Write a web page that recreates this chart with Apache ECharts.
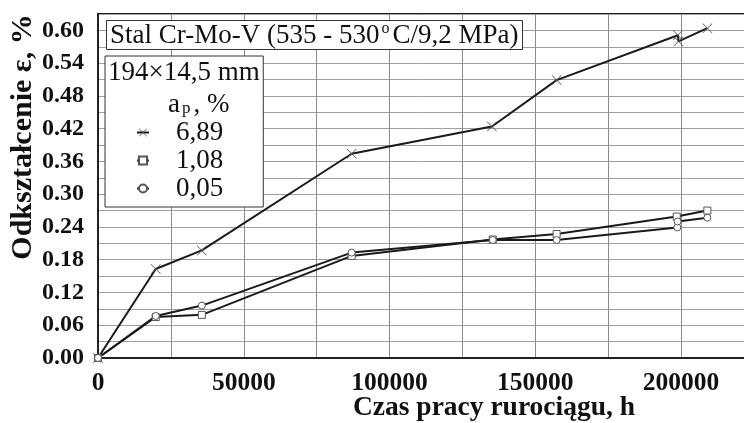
<!DOCTYPE html>
<html lang="pl">
<head>
  <meta charset="UTF-8">
  <title>Odkształcenie</title>
  <script src="https://cdn.jsdelivr.net/npm/echarts@6/dist/echarts.min.js"></script>
  <style>
    html, body { margin: 0; padding: 0; background: #fff; }
    #main { width: 744px; height: 423px; }
  </style>
</head>
<body>
  <div id="main"></div>
  <script>
    // dane: [czas h, odkształcenie %]
    var seriesNames = ['6,89', '1,08', '0,05'];
    var s689 = [[0, 0], [19800, 0.163], [35600, 0.197], [87000, 0.374], [135100, 0.424],
      [157300, 0.509], [198900, 0.591], [199100, 0.580], [209000, 0.604]];
    var s108 = [[0, 0], [19800, 0.075], [35600, 0.079], [87000, 0.187], [135400, 0.217],
      [157300, 0.227], [198500, 0.259], [209000, 0.270]];
    var s005 = [[0, 0], [19800, 0.077], [35600, 0.096], [87000, 0.193], [135400, 0.216],
      [157300, 0.216], [198700, 0.239], [198800, 0.250], [209000, 0.257]];
    var xTicks = [0, 50000, 100000, 150000, 200000];
    var yTicks = [0, 0.06, 0.12, 0.18, 0.24, 0.30, 0.36, 0.42, 0.48, 0.54, 0.60];

    var serif = 'Liberation Serif';
    var crossPath = 'path://M0,0.5L0.5,0L5,4.5L9.5,0L10,0.5L5.5,5L10,9.5L9.5,10L5,5.5L0.5,10L0,9.5L4.5,5Z';

    var myChart = echarts.init(document.getElementById('main'));

    function lineSeries(name, data, symbol, size) {
      var isCross = symbol === crossPath;
      return {
        name: name,
        type: 'line',
        data: data,
        symbol: symbol,
        symbolSize: size,
        showAllSymbol: true,
        lineStyle: { color: '#1a1a1a', width: 2 },
        itemStyle: isCross
          ? { color: '#555', borderWidth: 0 }
          : { color: '#fff', borderColor: '#555', borderWidth: 1 },
        emphasis: { disabled: true },
        z: 3
      };
    }

    var option = {
      animation: false,
      backgroundColor: '#fff',
      grid: {
        left: 98, top: 14, right: -10, bottom: 65,
        outerBoundsMode: 'none',
        show: true, borderColor: '#222', borderWidth: 2
      },
      title: {
        text: 'Stal Cr-Mo-V (535 - 530{sup|o}C/9,2 MPa)',
        left: 106, top: 21,
        padding: [1, 4, 1, 4],
        backgroundColor: '#fff',
        borderColor: '#333', borderWidth: 1,
        textStyle: {
          fontFamily: serif, fontSize: 27, fontWeight: 'normal', color: '#111', lineHeight: 27,
          rich: { sup: { fontFamily: serif, fontSize: 16, color: '#111', padding: [0, 3, 13, 2] } }
        }
      },
      legend: {
        orient: 'vertical',
        left: 105, top: 56,
        padding: [63, 40, 5, 31],
        itemGap: 1,
        itemWidth: 12, itemHeight: 10,
        backgroundColor: '#fff',
        borderColor: '#333', borderWidth: 1,
        data: seriesNames,
        textStyle: { fontFamily: serif, fontSize: 27, color: '#111', padding: [0, 0, 0, 22] }
      },
      graphic: [
        {
          type: 'text', left: 108, top: 59, z: 100,
          style: { text: '194×14,5 mm', font: '27px "Liberation Serif"', fill: '#111' }
        },
        {
          type: 'text', left: 168, top: 91, z: 100,
          style: {
            text: 'a{sub|p}, %', font: '27px "Liberation Serif"', fill: '#111',
            rich: { sub: { fontFamily: serif, fontSize: 17, fill: '#111', padding: [9, 3, 0, 2] } }
          }
        }
      ],
      xAxis: {
        type: 'value',
        min: 0, max: 225000, interval: 25000,
        name: 'Czas pracy rurociągu, h',
        nameLocation: 'middle',
        nameGap: 36,
        nameMoveOverlap: false,
        nameTextStyle: { fontFamily: serif, fontSize: 27.5, fontWeight: 'bold', color: '#111', padding: [0, 0, 0, 136] },
        axisLine: { show: true, lineStyle: { color: '#222', width: 2 } },
        axisTick: { show: false },
        axisLabel: {
          margin: 12,
          fontFamily: serif, fontSize: 25.5, fontWeight: 'bold', color: '#111',
          formatter: function (v) { return xTicks.indexOf(v) >= 0 ? String(v) : ''; }
        },
        splitLine: { show: true, lineStyle: { color: '#8c8c8c', width: 1 } }
      },
      yAxis: {
        type: 'value',
        min: 0, max: 0.63, interval: 0.03,
        name: 'Odkształcenie ε, %',
        nameLocation: 'middle',
        nameGap: 60,
        nameMoveOverlap: false,
        nameRotate: 90,
        nameTextStyle: { fontFamily: serif, fontSize: 30, fontWeight: 'bold', color: '#111', padding: [0, 0, 0, 98] },
        axisLine: { show: true, lineStyle: { color: '#222', width: 2 } },
        axisTick: { show: false },
        axisLabel: {
          margin: 14,
          fontFamily: serif, fontSize: 24, fontWeight: 'bold', color: '#111',
          formatter: function (v) {
            for (var i = 0; i < yTicks.length; i++) {
              if (Math.abs(yTicks[i] - v) < 1e-6) return yTicks[i].toFixed(2);
            }
            return '';
          }
        },
        splitLine: { show: true, lineStyle: { color: '#a0a0a0', width: 1 } }
      },
      series: [
        lineSeries(seriesNames[0], s689, crossPath, 10),
        lineSeries(seriesNames[1], s108, 'rect', 7),
        lineSeries(seriesNames[2], s005, 'circle', 7)
      ]
    };
    myChart.setOption(option);
  </script>
</body>
</html>
